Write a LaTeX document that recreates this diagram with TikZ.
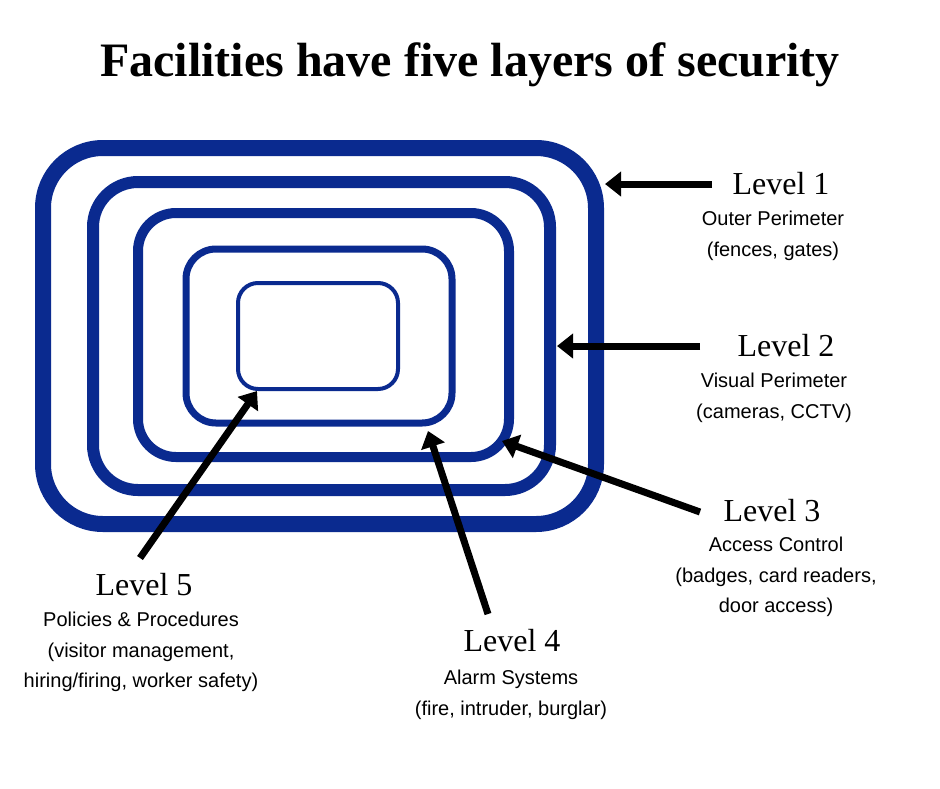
\documentclass[tikz,border=0pt]{standalone}
\usepackage{fontspec}
\setmainfont{Liberation Serif}
\newfontfamily\sansf{Liberation Sans}
\usetikzlibrary{arrows.meta}
\definecolor{nav}{HTML}{0A2A8F}
\tikzset{
 lay/.style={draw=nav,line width=#1},
 arr/.style={line width=7pt,-{Triangle[length=16pt,width=24pt]}},
 lvl/.style={font=\fontsize{32}{34}\selectfont},
 sub/.style={font=\sansf\fontsize{20}{30.5}\selectfont,align=center},
}
\begin{document}
\begin{tikzpicture}[x=1pt,y=-1pt]
\useasboundingbox[fill=white] (0,0) rectangle (940,788);
\node (title) at (470,65) {\fontsize{48}{50}\selectfont\bfseries Facilities have five layers of security};
\draw[lay=16pt,rounded corners=60] (43,148) rectangle (596,524);
\draw[lay=12pt,rounded corners=45] (93,182) rectangle (550,490);
\draw[lay=10pt,rounded corners=38] (138,213) rectangle (509,457);
\draw[lay=7pt,rounded corners=30] (186,249) rectangle (452,423);
\draw[lay=4pt,rounded corners=20] (238,283) rectangle (398,389);
\node[lvl] (l1) at (781,184) {Level 1};
\node[sub] (s1) at (773,236) {Outer Perimeter\\(fences, gates)};
\node[lvl] (l2) at (786,346) {Level 2};
\node[sub] (s2) at (774,398) {Visual Perimeter\\(cameras, CCTV)};
\node[lvl] (l3) at (772,511) {Level 3};
\node[sub] (s3) at (776,577) {Access Control\\(badges, card readers,\\door access)};
\node[lvl] (l4) at (512,641) {Level 4};
\node[sub] (s4) at (511,695) {Alarm Systems\\(fire, intruder, burglar)};
\node[lvl] (l5) at (144,585) {Level 5};
\node[sub] (s5) at (141,652) {Policies \& Procedures\\(visitor management,\\hiring/firing, worker safety)};
\coordinate (a1s) at (712,184); \coordinate (a1e) at (605,184);
\coordinate (a2s) at (700,346); \coordinate (a2e) at (557,346);
\coordinate (a3s) at (700,512); \coordinate (a3e) at (502,441);
\coordinate (a4s) at (488,614); \coordinate (a4e) at (428,431);
\coordinate (a5s) at (140,558); \coordinate (a5e) at (257,391);
\draw[arr] (a1s)--(a1e);
\draw[arr] (a2s)--(a2e);
\draw[arr] (a3s)--(a3e);
\draw[arr] (a4s)--(a4e);
\draw[arr] (a5s)--(a5e);
\end{tikzpicture}
\end{document}
